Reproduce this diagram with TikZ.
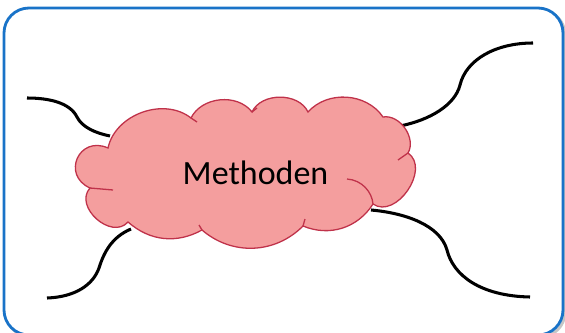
\documentclass[tikz,border=0pt]{standalone}
\usepackage{fontspec}
\setmainfont{Carlito}
\usetikzlibrary{positioning}
\definecolor{rahmenblau}{RGB}{25,115,200}
\definecolor{wolkenrot}{RGB}{244,158,158}
\definecolor{wolkenrand}{RGB}{192,50,74}

\newcommand{\wolkenpfad}{(w1) to[bend right=90,looseness=1.85] (w11)
  to[bend right=90,looseness=1.25] (w10) to[bend right=35] (w9)
  to[bend right=43] (w8) to[bend right=40] (w7)
  to[bend right=90,looseness=1.15] (w6) to[bend right=65] (w5)
  to[bend right=52] (w4) to[bend right=65] (w3)
  to[bend right=58] (w2) to[bend right=58] (w1) -- cycle}

\begin{document}
\begin{tikzpicture}[x=0.03cm,y=-0.03cm,
	ast/.style={line width=2.6pt,black},
	wolke/.style={draw=wolkenrand,fill=wolkenrot,line width=1.1pt},
	falte/.style={draw=wolkenrand,line width=1.1pt}]
\useasboundingbox (0,0) rectangle (565,332);
\clip (0,0) rectangle (565,332);
% frame
\draw[gray!45,line width=2.5pt,rounded corners=25*0.03cm] (6,10) rectangle (565,337);
\draw[rahmenblau,line width=2.4pt,fill=white,rounded corners=25*0.03cm] (4,8) rectangle (563,335);
% cloud outline points
\coordinate (w1) at (108,148);
\coordinate (w2) at (191,118);
\coordinate (w3) at (252,112);
\coordinate (w4) at (308,112);
\coordinate (w5) at (383,117);
\coordinate (w6) at (408,153);
\coordinate (w7) at (373,204);
\coordinate (w8) at (303,226);
\coordinate (w9) at (202,230);
\coordinate (w10) at (128,222);
\coordinate (w11) at (90,188);
% branch ends
\coordinate (ol) at (27,98);
\coordinate (or) at (533,43);
\coordinate (ul) at (47,298);
\coordinate (ur) at (530,297);
\coordinate (ol-w) at (110,136);
\coordinate (or-w) at (400,126);
\coordinate (ul-w) at (131,229);
\coordinate (ur-w) at (371,210);
\draw[ast] (ol) .. controls (50,98) and (70,103) .. (77,117)
  .. controls (82,127) and (95,133) .. (ol-w);
\draw[ast] (or) .. controls (495,43) and (466,60) .. (460,85)
  .. controls (455,105) and (430,120) .. (or-w);
\draw[ast] (ul) .. controls (75,297) and (93,285) .. (99,268)
  .. controls (104,252) and (112,237) .. (ul-w);
\draw[ast] (ur) .. controls (480,296) and (453,275) .. (447,250)
  .. controls (440,225) and (405,213) .. (ur-w);
% cloud
\fill[black,opacity=0.07,shift={(2,4)}] \wolkenpfad;
\path[wolke] \wolkenpfad;
\draw[falte] (w2) -- (197,122);
\draw[falte] (w3) -- (257,108);
\draw[falte] (w6) -- (398,160);
\draw[falte] (w8) -- (305,219);
\draw[falte] (w9) -- (199,225);
\draw[falte] (w11) -- (113,190);
\draw[falte] (347,179) .. controls (362,180) and (372,192) .. (w7);
\node[anchor=base,font=\fontsize{29}{34}\selectfont] (methoden) at (255.5,184) {Methoden};
\end{tikzpicture}
\end{document}
